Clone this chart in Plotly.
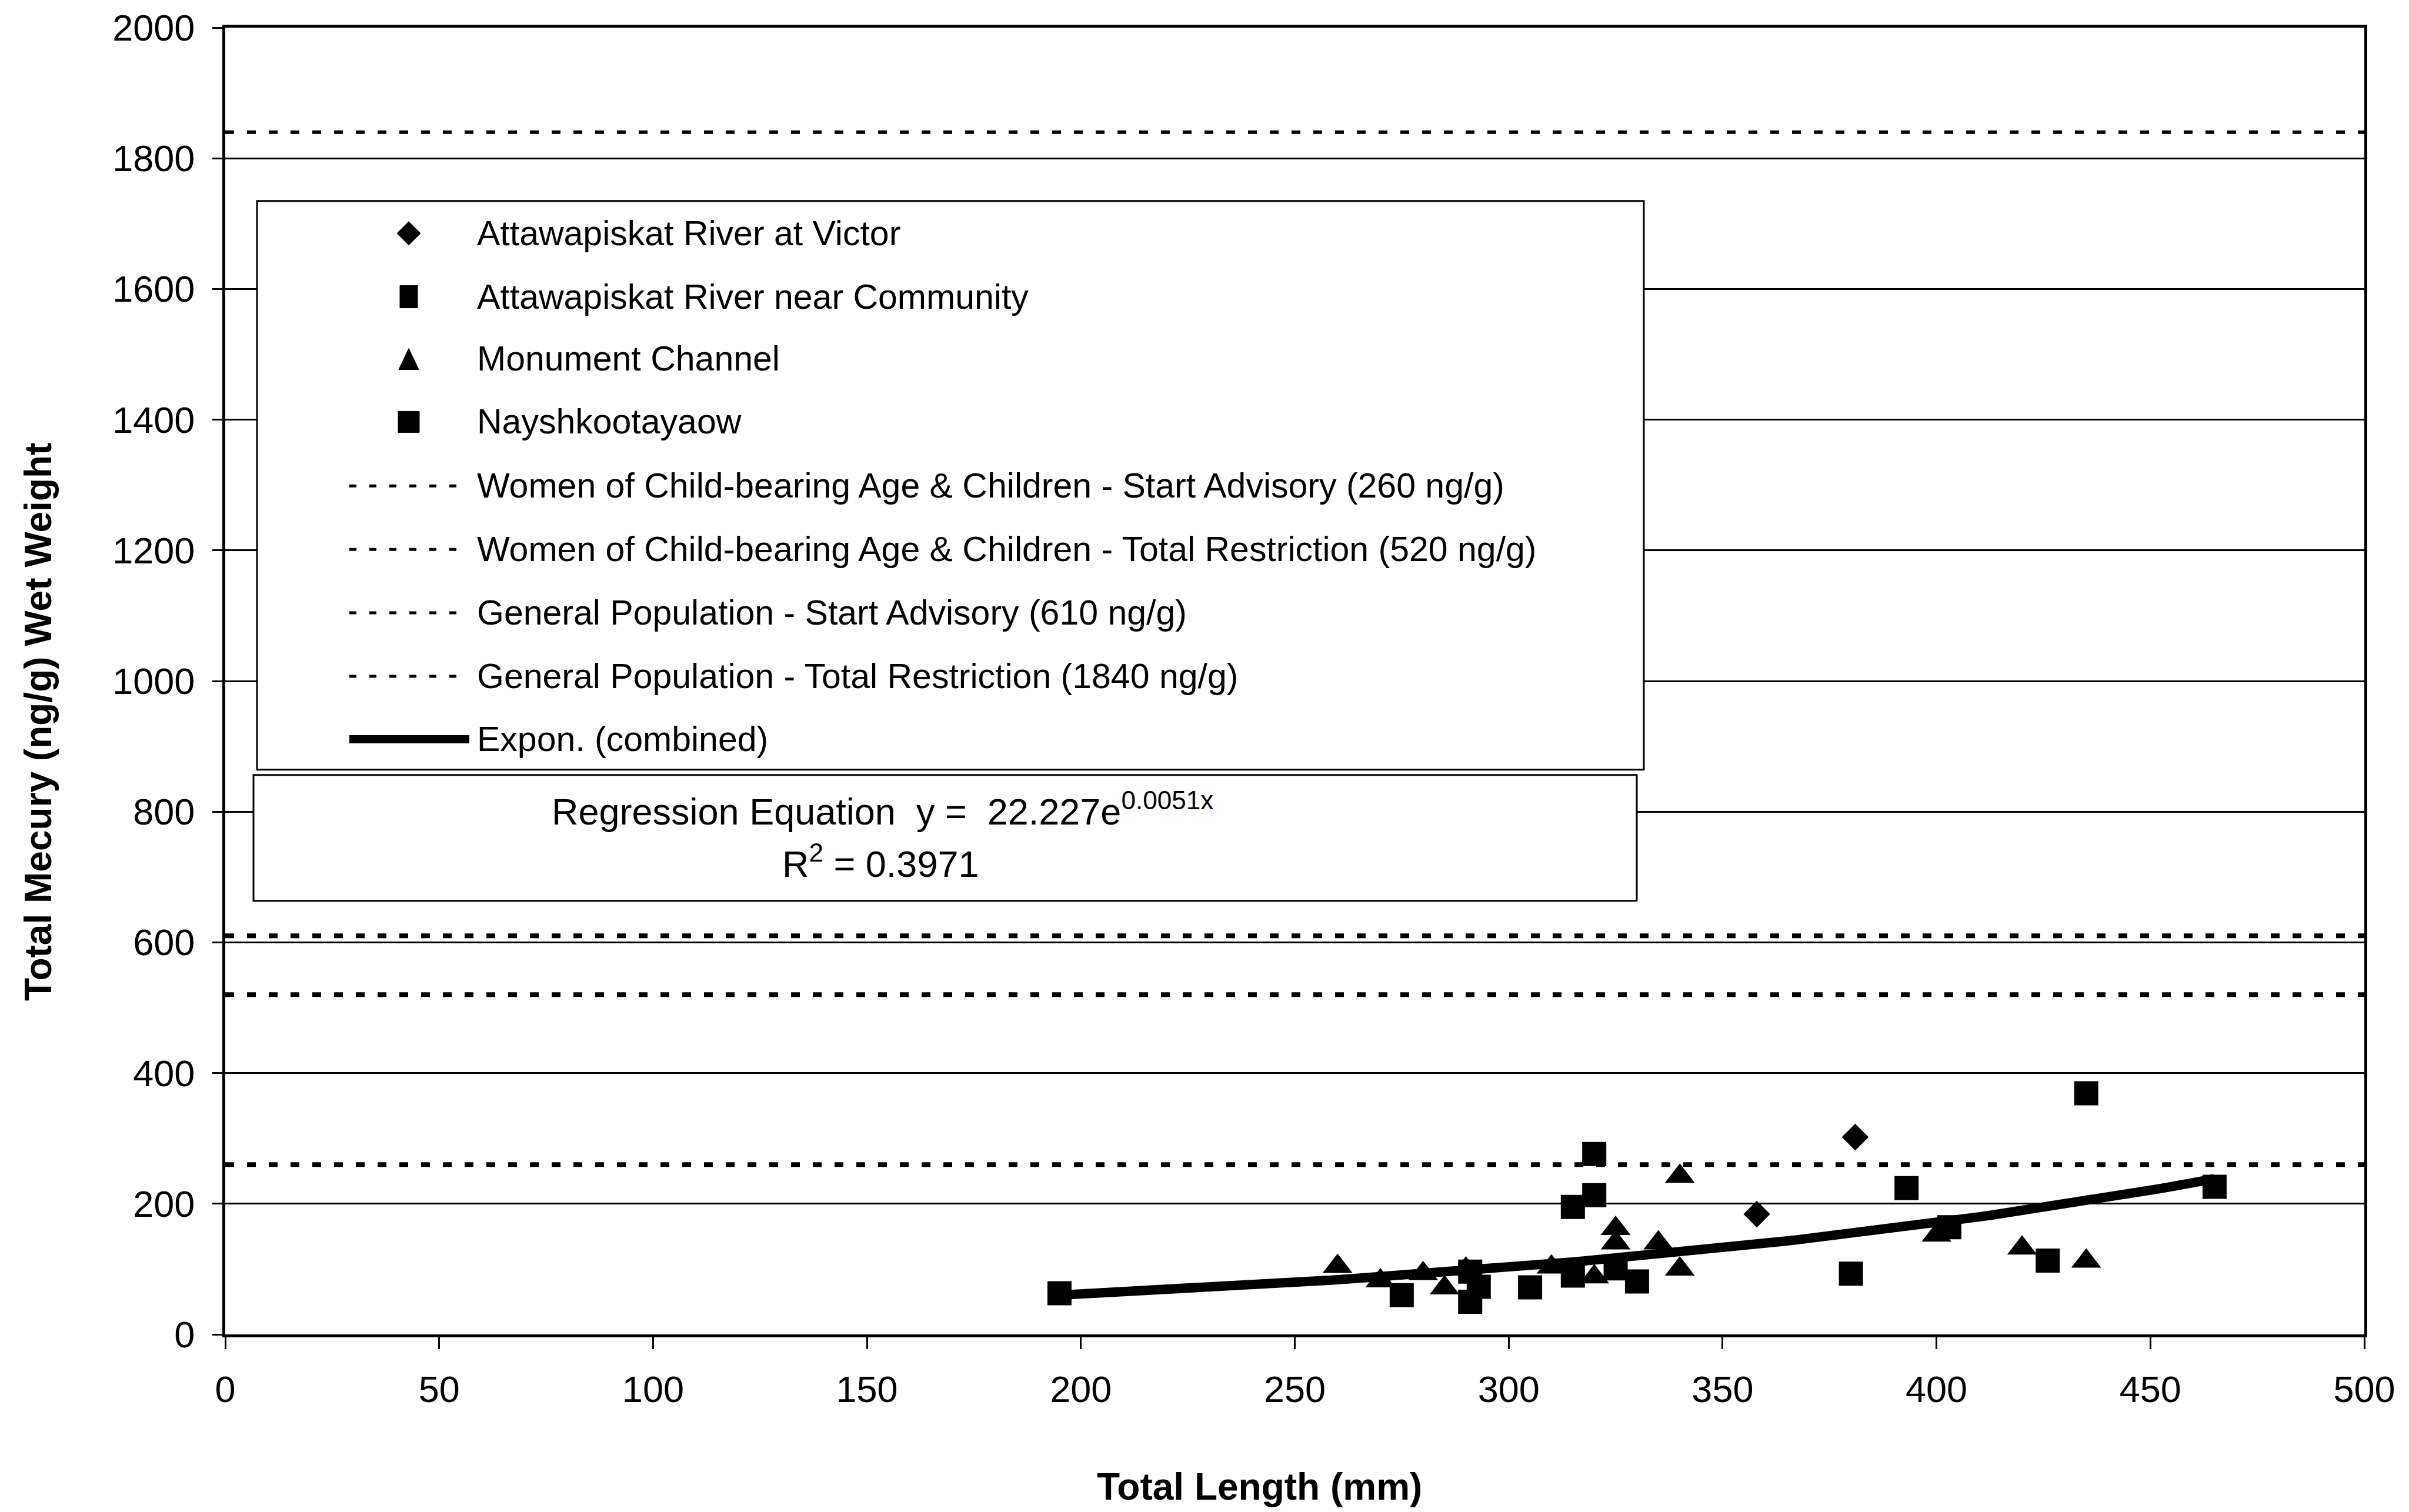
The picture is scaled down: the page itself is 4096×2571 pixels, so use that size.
import numpy as np
import plotly.graph_objects as go

# ---------------- data ----------------
victor_len = [358, 381]
victor_hg = [184, 302]

community_len = [315, 320, 320, 325, 330, 380, 393, 403, 426, 435, 465]
community_hg = [195, 213, 276, 101, 81, 93, 224, 164, 113, 369, 226]

naysh_len = [195, 275, 291, 291, 293, 305, 315]
naysh_hg = [63, 60, 96, 50, 73, 72, 90]

monument_len = [260, 270, 280, 285, 290, 310, 320, 325, 325, 335, 340, 340, 400, 420, 435]
monument_hg = [104, 82, 93, 71, 100, 103, 88, 162, 140, 140, 242, 100, 152, 132, 112]

guideline_names = [
    "Women of Child-bearing Age & Children - Start Advisory (260 ng/g)",
    "Women of Child-bearing Age & Children - Total Restriction (520 ng/g)",
    "General Population - Start Advisory (610 ng/g)",
    "General Population - Total Restriction (1840 ng/g)",
]
guideline_values = [260, 520, 610, 1840]

series_names = [
    "Attawapiskat River at Victor",
    "Attawapiskat River near Community",
    "Monument Channel",
    "Nayshkootayaow",
]
trend_name = "Expon. (combined)"
TREND_A = 22.227
TREND_B = 0.0051
TREND_R2 = 0.3971

x_ticks = list(range(0, 501, 50))
y_ticks = list(range(0, 2001, 200))
X_RANGE = [0, 500]
Y_RANGE = [0, 2000]

# ---------------- geometry ----------------
W, H = 4096, 2571
L, R, T, B = 383, 76, 45, 302
PW, PH = W - L - R, H - T - B
FONT = "Arial, Liberation Sans, sans-serif"


def px(x):
    return (x - L) / PW


def py(y):
    return 1 - (y - T) / PH


fig = go.Figure()

# guideline (dotted) lines
for nm, v, w in zip(guideline_names, guideline_values, [8, 8, 8, 6]):
    fig.add_trace(go.Scatter(
        x=X_RANGE, y=[v, v], mode="lines", name=nm,
        line=dict(color="black", width=w, dash="15px,22px"),
        hoverinfo="skip"))

# data markers
fig.add_trace(go.Scatter(x=victor_len, y=victor_hg, mode="markers", name=series_names[0],
                         marker=dict(symbol="diamond", size=35, color="black")))
fig.add_trace(go.Scatter(x=community_len, y=community_hg, mode="markers", name=series_names[1],
                         marker=dict(symbol="square", size=41, color="black")))
fig.add_trace(go.Scatter(x=monument_len, y=monument_hg, mode="markers", name=series_names[2],
                         marker=dict(symbol="triangle-up", size=44, color="black")))
fig.add_trace(go.Scatter(x=naysh_len, y=naysh_hg, mode="markers", name=series_names[3],
                         marker=dict(symbol="square", size=41, color="black")))

# exponential trendline from the chart's regression equation
all_len = victor_len + community_len + monument_len + naysh_len
tx = np.linspace(min(all_len), max(all_len), 120)
ty = TREND_A * np.exp(TREND_B * tx)
fig.add_trace(go.Scatter(x=tx, y=ty, mode="lines", name=trend_name,
                         line=dict(color="black", width=16)))

# ---------------- manual legend ----------------
shapes = []
annotations = []
# legend box
shapes.append(dict(type="rect", xref="paper", yref="paper",
                   x0=px(437), x1=px(2795), y0=py(1308), y1=py(340),
                   line=dict(color="black", width=3), fillcolor="white", layer="above"))
# regression box
shapes.append(dict(type="rect", xref="paper", yref="paper",
                   x0=px(431), x1=px(2783), y0=py(1531), y1=py(1317),
                   line=dict(color="black", width=3), fillcolor="white", layer="above"))

rows = [395, 503, 609, 716, 825, 933, 1041, 1149, 1256]
sym_cx = 695
line_x0, line_x1 = 594, 798
text_x = 809


def diamond(cx, cy, r):
    return ("M{},{} L{},{} L{},{} L{},{} Z".format(
        px(cx), py(cy - r), px(cx + r), py(cy), px(cx), py(cy + r), px(cx - r), py(cy)))


def square(cx, cy, hw, hh):
    return ("M{},{} L{},{} L{},{} L{},{} Z".format(
        px(cx - hw), py(cy - hh), px(cx + hw), py(cy - hh), px(cx + hw), py(cy + hh), px(cx - hw), py(cy + hh)))


def triangle(cx, cy, hw, hh):
    return ("M{},{} L{},{} L{},{} Z".format(
        px(cx), py(cy - hh), px(cx + hw), py(cy + hh), px(cx - hw), py(cy + hh)))


sym_paths = [diamond(sym_cx, rows[0], 20),
             square(sym_cx, rows[1], 15, 19),
             triangle(sym_cx, rows[2], 17, 18),
             square(sym_cx, rows[3], 18, 18)]
for p in sym_paths:
    shapes.append(dict(type="path", xref="paper", yref="paper", path=p,
                       fillcolor="black", line=dict(color="black", width=1), layer="above"))

for i in range(4):
    shapes.append(dict(type="line", xref="paper", yref="paper",
                       x0=px(line_x0), x1=px(line_x1), y0=py(rows[4 + i]), y1=py(rows[4 + i]),
                       line=dict(color="black", width=5, dash="12px,22px"), layer="above"))
shapes.append(dict(type="line", xref="paper", yref="paper",
                   x0=px(line_x0), x1=px(line_x1), y0=py(rows[8]), y1=py(rows[8]),
                   line=dict(color="black", width=14), layer="above"))

legend_labels = series_names + guideline_names + [trend_name]
for lab, ry in zip(legend_labels, rows):
    annotations.append(dict(xref="paper", yref="paper", x=px(text_x), y=py(ry),
                            xanchor="left", yanchor="middle", showarrow=False,
                            text=lab, font=dict(size=59, family=FONT, color="black")))

# regression text
annotations.append(dict(xref="paper", yref="paper", x=px(1500), y=py(1375),
                        xanchor="center", yanchor="middle", showarrow=False,
                        text="Regression Equation&nbsp; y =&nbsp; {}e<sup>{}x</sup>".format(TREND_A, TREND_B),
                        font=dict(size=63, family=FONT, color="black")))
annotations.append(dict(xref="paper", yref="paper", x=px(1497), y=py(1464),
                        xanchor="center", yanchor="middle", showarrow=False,
                        text="R<sup>2</sup> = {}".format(TREND_R2),
                        font=dict(size=63, family=FONT, color="black")))

# axis titles
annotations.append(dict(xref="paper", yref="paper", x=px(2141), y=py(2528),
                        xanchor="center", yanchor="middle", showarrow=False,
                        text="<b>Total Length (mm)</b>",
                        font=dict(size=64, family=FONT, color="black")))
annotations.append(dict(xref="paper", yref="paper", x=px(65), y=py(1227),
                        xanchor="center", yanchor="middle", showarrow=False, textangle=-90,
                        text="<b>Total Mecury (ng/g) Wet Weight</b>",
                        font=dict(size=64, family=FONT, color="black")))

fig.update_layout(
    width=W, height=H,
    margin=dict(l=L, r=R, t=T, b=B, pad=0),
    paper_bgcolor="white", plot_bgcolor="white",
    showlegend=False,
    font=dict(family=FONT, color="black"),
    shapes=shapes, annotations=annotations,
)
fig.update_xaxes(range=X_RANGE, tickvals=x_ticks, ticktext=[str(v) for v in x_ticks],
                 ticks="outside", ticklen=20, tickwidth=3, tickcolor="black",
                 showline=True, linewidth=5, linecolor="black", mirror=True,
                 showgrid=False, zeroline=False,
                 tickfont=dict(size=63, family=FONT, color="black"), ticklabelstandoff=14)
fig.update_yaxes(range=Y_RANGE, tickvals=y_ticks, ticktext=[str(v) for v in y_ticks],
                 ticks="outside", ticklen=17, tickwidth=3, tickcolor="black",
                 showline=True, linewidth=5, linecolor="black", mirror=True,
                 showgrid=True, gridcolor="black", gridwidth=3, zeroline=False,
                 tickfont=dict(size=63, family=FONT, color="black"), ticklabelstandoff=17)

fig.write_html("out.html", config={"displayModeBar": False})
